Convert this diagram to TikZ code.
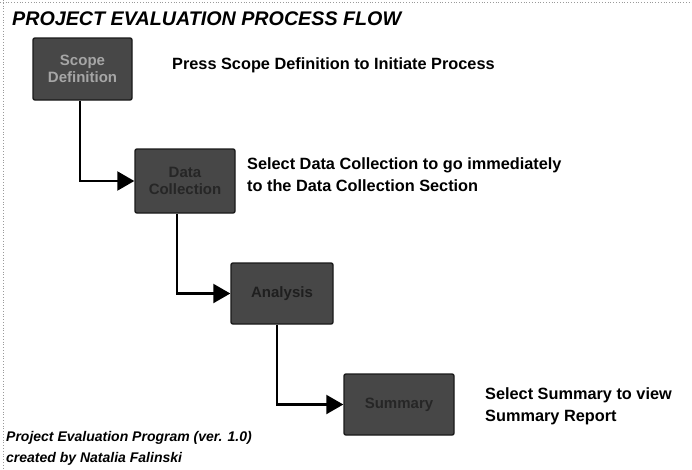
\documentclass[tikz,border=0pt]{standalone}
\usepackage{fontspec}
\setmainfont{Liberation Sans}
\usetikzlibrary{arrows.meta}
\definecolor{boxfill}{HTML}{474747}
\definecolor{boxedge}{HTML}{1A1A1A}
\definecolor{framegray}{HTML}{9A9A9A}
\tikzset{
  stepbox/.style={draw=boxedge, line width=1.4pt, fill=boxfill, rounded corners=2pt,
    align=center, inner sep=0pt, font=\bfseries\fontsize{15}{17}\selectfont},
  conn/.style={line width=2.2pt, -{Triangle[length=17pt,width=19pt]}},
  desc/.style={anchor=north west, inner sep=0pt, align=left,
    font=\bfseries\fontsize{16.3}{22}\selectfont},
  foot/.style={anchor=north west, inner sep=0pt, align=left,
    font=\bfseries\itshape\fontsize{14}{21}\selectfont},
}
\begin{document}
\begin{tikzpicture}[x=1pt,y=-1pt]
\useasboundingbox (0,0) rectangle (692,469);
\draw[framegray, dotted, line width=0.8pt] (0,2) -- (692,2);
\draw[framegray, dotted, line width=0.8pt] (3,0) -- (3,469);

\node[anchor=north west, inner sep=0pt, font=\bfseries\itshape\fontsize{19.7}{22}\selectfont] (title) at (12,12) {PROJECT EVALUATION PROCESS FLOW};

\node[stepbox, minimum width=99pt, minimum height=62pt, text=gray!70] (scope) at (82.5,69) {Scope\\Definition};
\node[stepbox, minimum width=100pt, minimum height=64pt, text=black!85] (data) at (185,181) {Data\\Collection};
\node[stepbox, minimum width=102pt, minimum height=61pt, text=black!88] (analysis) at (282,293.5) {Analysis};
\node[stepbox, minimum width=110pt, minimum height=61pt, text=black!85] (summary) at (399,404.5) {Summary};

\draw[conn] ([xshift=-2.5pt]scope.south) |- (data.west);
\draw[conn] ([xshift=-8pt]data.south) |- (analysis.west);
\draw[conn] ([xshift=-5pt]analysis.south) |- (summary.west);

\node[desc] (t1) at (172,57) {Press Scope Definition to Initiate Process};
\node[desc] (t2) at (247,157) {Select Data Collection to go immediately\\to the Data Collection Section};
\node[desc] (t3) at (485,387) {Select Summary to view\\Summary Report};

\node[foot] (f1) at (6,431) {Project Evaluation Program (ver. 1.0)\\created by Natalia Falinski};
\end{tikzpicture}
\end{document}
